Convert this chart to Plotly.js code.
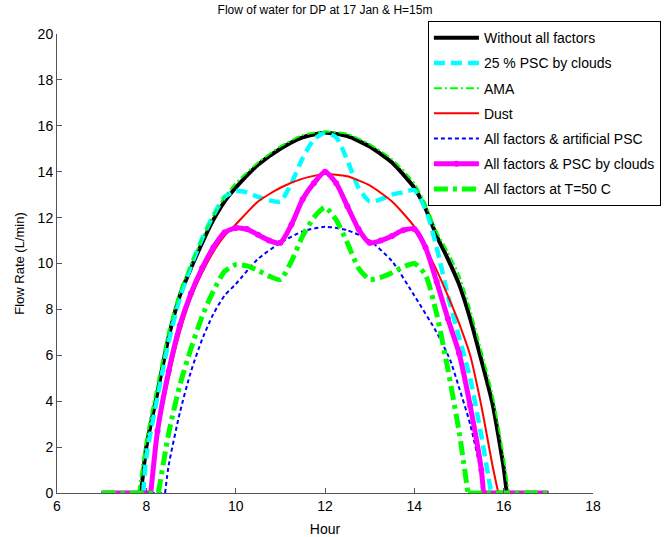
<!DOCTYPE html>
<html>
<head>
<meta charset="utf-8">
<script src="https://cdn.plot.ly/plotly-3.0.1.min.js"></script>
<style>html,body{margin:0;padding:0;background:#fff;}#chart{width:665px;height:537px;}</style>
</head>
<body>
<div id="chart"></div>
<script>
// Hours and flow rates (L/min)
const seriesNames = ["Without all factors", "25 % PSC by clouds", "AMA", "Dust",
  "All factors & artificial PSC", "All factors & PSC by clouds", "All factors at T=50 C"];

const hoursBlack = [7, 7.88, 8, 8.25, 8.5, 8.75, 9, 9.25, 9.5, 9.75, 10, 10.5, 11, 11.5, 12, 12.5, 13, 13.5, 14, 14.25, 14.5, 14.75, 15, 15.25, 15.5, 15.75, 16, 16.07, 17];
const flowBlack  = [0, 0, 2.0, 4.4, 6.8, 8.6, 9.8, 10.9, 11.9, 12.7, 13.3, 14.3, 15.0, 15.5, 15.7, 15.55, 15.1, 14.4, 13.3, 12.4, 11.2, 10.2, 9.1, 7.6, 5.8, 3.9, 1.1, 0, 0];

const hoursCyan = [7, 7.93, 8, 8.25, 8.5, 8.75, 9, 9.25, 9.5, 9.75, 10, 10.25, 10.5, 10.75, 11, 11.25, 11.5, 11.75, 12, 12.25, 12.5, 12.75, 13, 13.25, 13.5, 13.75, 14, 14.25, 14.5, 14.75, 15, 15.25, 15.5, 15.65, 15.72, 17];
const flowCyan  = [0, 0, 1.6, 4.2, 6.6, 8.5, 9.9, 11.1, 12.1, 12.9, 13.15, 13.1, 12.9, 12.75, 12.7, 13.5, 14.6, 15.4, 15.7, 15.5, 14.5, 13.3, 12.7, 12.8, 13.0, 13.1, 13.2, 12.4, 10.7, 8.6, 6.8, 5.0, 2.5, 0.8, 0, 0];

const hoursAMA = [7, 7.82, 8, 8.25, 8.5, 8.75, 9, 9.25, 9.5, 9.75, 10, 10.5, 11, 11.5, 12, 12.5, 13, 13.5, 14, 14.25, 14.5, 14.75, 15, 15.25, 15.5, 15.75, 16, 16.12, 17];
const flowAMA  = [0, 0, 2.4, 4.8, 7.1, 8.8, 10.0, 11.1, 12.1, 12.9, 13.5, 14.4, 15.1, 15.6, 15.75, 15.65, 15.2, 14.55, 13.5, 12.6, 11.4, 10.5, 9.5, 8.0, 6.2, 4.3, 1.6, 0, 0];

const hoursDust = [7, 8.1, 8.25, 8.5, 8.75, 9, 9.25, 9.5, 9.75, 10, 10.5, 11, 11.5, 12, 12.5, 13, 13.5, 14, 14.5, 14.75, 15, 15.25, 15.5, 15.75, 15.88, 17];
const flowDust  = [0, 0, 2.5, 5.0, 7.0, 8.5, 9.6, 10.5, 11.2, 11.7, 12.7, 13.3, 13.7, 13.9, 13.8, 13.4, 12.7, 11.6, 9.7, 8.6, 7.4, 6.0, 3.8, 1.2, 0, 0];

const hoursBlue = [7, 8.42, 8.5, 8.75, 9, 9.25, 9.5, 9.75, 10, 10.5, 11, 11.5, 12, 12.5, 13, 13.5, 14, 14.5, 14.8, 15, 15.25, 15.5, 15.55, 17];
const flowBlue  = [0, 0, 1.2, 3.5, 5.3, 6.7, 7.8, 8.6, 9.1, 10.2, 10.9, 11.4, 11.6, 11.45, 11.0, 10.1, 8.6, 7.0, 5.8, 4.6, 3.0, 0.8, 0, 0];

const hoursMagenta = [7, 8.1, 8.25, 8.5, 8.75, 9, 9.25, 9.5, 9.75, 10, 10.25, 10.5, 10.75, 11, 11.25, 11.5, 11.75, 12, 12.25, 12.5, 12.75, 13, 13.25, 13.5, 13.75, 14, 14.25, 14.5, 14.75, 15, 15.25, 15.5, 15.55, 17];
const flowMagenta  = [0, 0, 2.7, 5.3, 7.3, 8.7, 9.8, 10.7, 11.35, 11.55, 11.5, 11.25, 11.0, 10.9, 11.7, 12.8, 13.5, 14.0, 13.5, 12.5, 11.5, 10.9, 11.0, 11.2, 11.45, 11.5, 10.7, 9.2, 7.6, 6.1, 3.8, 1.0, 0, 0];

const hoursT50 = [7, 8.27, 8.5, 8.75, 9, 9.25, 9.5, 9.75, 10, 10.25, 10.5, 10.75, 11, 11.25, 11.5, 11.75, 12, 12.25, 12.5, 12.75, 13, 13.25, 13.5, 13.75, 14, 14.25, 14.5, 14.75, 15, 15.2, 17];
const flowT50  = [0, 0, 2.6, 4.7, 6.3, 7.7, 8.8, 9.65, 9.95, 9.9, 9.7, 9.45, 9.3, 10.1, 11.2, 12.0, 12.45, 11.9, 10.9, 9.8, 9.3, 9.4, 9.6, 9.85, 10.0, 9.5, 7.8, 5.4, 2.7, 0, 0];

const xTicks = [6, 8, 10, 12, 14, 16, 18];
const yTicks = [0, 2, 4, 6, 8, 10, 12, 14, 16, 18, 20];

const styles = [
  {mode: "lines", line: {color: "#000000", width: 4}},
  {mode: "lines", line: {color: "#00FFFF", width: 4.5, dash: "11px,6px"}},
  {mode: "lines", line: {color: "#00FF00", width: 2, dash: "8px,3px,2px,3px"}},
  {mode: "lines", line: {color: "#FF0000", width: 2}},
  {mode: "lines", line: {color: "#0000FF", width: 2, dash: "4px,3px"}},
  {mode: "lines+markers", line: {color: "#FF00FF", width: 5}, marker: {color: "#FF00FF", size: 6, symbol: "circle"}},
  {mode: "lines", line: {color: "#00FF00", width: 5, dash: "14px,5px,4px,5px"}}
];
const xs = [hoursBlack, hoursCyan, hoursAMA, hoursDust, hoursBlue, hoursMagenta, hoursT50];
const ys = [flowBlack, flowCyan, flowAMA, flowDust, flowBlue, flowMagenta, flowT50];

const traces = [];
xs.forEach((x, i) => {
  const y = ys[i];
  const n = x.length;
  const st = styles[i];
  // zero segments before sunrise / after sunset
  traces.push(Object.assign({}, JSON.parse(JSON.stringify(st)), {
    x: [x[0], x[1], null, x[n - 2], x[n - 1]], y: [y[0], y[1], null, y[n - 2], y[n - 1]],
    mode: "lines", name: seriesNames[i], legendgroup: "g" + i, showlegend: false, connectgaps: false
  }));
  // daytime curve
  const tr = Object.assign({}, JSON.parse(JSON.stringify(st)), {
    x: x.slice(1, n - 1), y: y.slice(1, n - 1), name: seriesNames[i], legendgroup: "g" + i, showlegend: true
  });
  tr.line.shape = "spline";
  tr.line.smoothing = 0.6;
  if (tr.marker) tr.marker.maxdisplayed = 0;
  traces.push(tr);
});

const layout = {
  width: 665, height: 537,
  margin: {l: 57, r: 72, t: 34, b: 44, pad: 0, autoexpand: false},
  paper_bgcolor: "#ffffff", plot_bgcolor: "#ffffff",
  font: {family: "Liberation Sans, Arial, sans-serif", size: 13, color: "#000"},
  title: {text: "Flow of water for DP at 17 Jan & H=15m", x: 0.5, xref: "paper", yref: "container", y: 0.99, yanchor: "top",
          font: {size: 12, color: "#000"}},
  xaxis: {range: [6, 18], tickvals: xTicks, ticktext: xTicks.map(String),
          ticks: "inside", ticklen: 5, tickcolor: "#555", showline: true, linecolor: "#555", linewidth: 1,
          mirror: false, showgrid: false, zeroline: false, tickfont: {size: 14},
          title: {text: "Hour", standoff: 12, font: {size: 14}}},
  yaxis: {range: [0, 20], tickvals: yTicks, ticktext: yTicks.map(String),
          ticks: "inside", ticklen: 5, tickcolor: "#555", showline: true, linecolor: "#555", linewidth: 1,
          mirror: false, showgrid: false, zeroline: false, tickfont: {size: 14},
          title: {text: "Flow Rate (L/min)", standoff: 10, font: {size: 13}}},
  legend: {x: 0.692, y: 1.028, xanchor: "left", yanchor: "top", bgcolor: "#ffffff",
           bordercolor: "#000", borderwidth: 1, font: {size: 14}, itemwidth: 45, tracegroupgap: 4},
  showlegend: true
};

Plotly.newPlot("chart", traces, layout, {displayModeBar: false, staticPlot: true});
</script>
</body>
</html>
